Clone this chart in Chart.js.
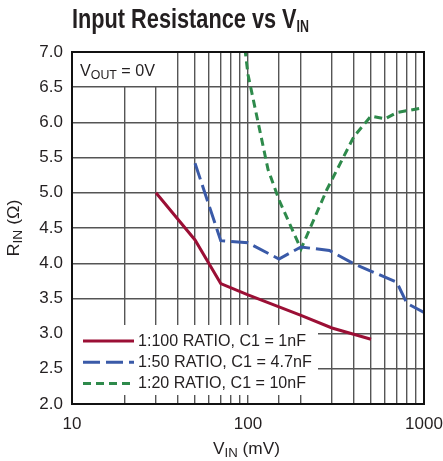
<!DOCTYPE html>
<html>
<head>
<meta charset="utf-8">
<script src="https://cdn.jsdelivr.net/npm/chart.js@4.4.0/dist/chart.umd.min.js"></script>
<style>
  html, body { margin: 0; padding: 0; background: #fff; }
  #wrap { width: 443px; height: 461px; }
</style>
</head>
<body>
<div id="wrap"><canvas id="chart" width="443" height="461"></canvas></div>
<script>
// values (x in mV, y in ohms)
const ratio100X = [30, 50, 70, 100, 200, 300, 500];
const ratio100Y = [5.0, 4.33, 3.71, 3.55, 3.26, 3.08, 2.92];
const ratio50X = [50, 70, 100, 150, 200, 290, 400, 700, 800, 1000];
const ratio50Y = [5.42, 4.32, 4.29, 4.06, 4.23, 4.18, 3.99, 3.73, 3.43, 3.3];
const ratio20X = [96, 100, 130, 150, 200, 280, 400, 500, 600, 700, 1000];
const ratio20Y = [7.05, 6.68, 5.33, 4.9, 4.2, 5.04, 5.8, 6.09, 6.05, 6.14, 6.21];
const seriesNames = ["1:100 RATIO, C1 = 1nF", "1:50 RATIO, C1 = 4.7nF", "1:20 RATIO, C1 = 10nF"];
const legendWidths = [168, 174, 168];
const xLabelTicks = [10, 100, 1000];

const fam = '"Liberation Sans", Arial, sans-serif';

function pts(xs, ys) {
  return xs.map((x, i) => ({ x: x, y: ys[i] }));
}

// draws text pieces one after another (for subscripts), squeezed to a width
function drawParts(ctx, x, y, parts, width, center) {
  let w = 0;
  parts.forEach(p => { ctx.font = p.font; w += ctx.measureText(p.t).width; });
  const sx = width ? width / w : 1;
  ctx.save();
  ctx.translate(center ? x - (w * sx) / 2 : x, y);
  ctx.scale(sx, 1);
  let cx = 0;
  parts.forEach(p => {
    ctx.font = p.font;
    ctx.fillText(p.t, cx, p.dy || 0);
    cx += ctx.measureText(p.t).width;
  });
  ctx.restore();
}

const boxes = {
  id: "boxes",
  beforeDatasetsDraw(chart) {
    const ctx = chart.ctx;
    const a = chart.chartArea;
    ctx.save();
    ctx.fillStyle = "#fff";
    ctx.fillRect(a.left, a.top, 93, 34);          // VOUT box
    ctx.fillRect(a.left, a.bottom - 79, 246, 70); // legend box
    ctx.restore();
  },
  afterDraw(chart) {
    const ctx = chart.ctx;
    const a = chart.chartArea;
    ctx.save();
    ctx.strokeStyle = "#111";
    ctx.lineWidth = 2;
    ctx.strokeRect(a.left, a.top, a.right - a.left, a.bottom - a.top);

    ctx.fillStyle = "#231f20";
    ctx.textBaseline = "alphabetic";
    ctx.textAlign = "left";
    drawParts(ctx, 72, 28, [
      { t: "Input Resistance vs V", font: "bold 28px " + fam },
      { t: "IN", font: "bold 16px " + fam, dy: 4 }
    ], 237);
    drawParts(ctx, 80, 76, [
      { t: "V", font: "17px " + fam },
      { t: "OUT", font: "13px " + fam, dy: 3 },
      { t: " = 0V", font: "17px " + fam }
    ], 75);
    drawParts(ctx, 246.5, 454, [
      { t: "V", font: "17px " + fam },
      { t: "IN", font: "13px " + fam, dy: 3 },
      { t: " (mV)", font: "17px " + fam }
    ], 67, true);
    ctx.save();
    ctx.translate(19, 228);
    ctx.rotate(-Math.PI / 2);
    drawParts(ctx, 0, 0, [
      { t: "R", font: "17px " + fam },
      { t: "IN", font: "13px " + fam, dy: 3 },
      { t: " (\u03A9)", font: "17px " + fam }
    ], 57, true);
    ctx.restore();

    // legend
    chart.data.datasets.forEach((ds, i) => {
      const y = 341 + i * 21.3;
      ctx.beginPath();
      ctx.strokeStyle = ds.borderColor;
      ctx.lineWidth = 3;
      ctx.setLineDash(ds.borderDash || []);
      ctx.moveTo(83, y);
      ctx.lineTo(134, y);
      ctx.stroke();
      ctx.setLineDash([]);
      ctx.fillStyle = "#231f20";
      ctx.textBaseline = "middle";
      drawParts(ctx, 138, y, [{ t: ds.label, font: "17px " + fam }], legendWidths[i]);
    });
    ctx.restore();
  }
};

const ctx = document.getElementById("chart");
const chart = new Chart(ctx, {
  type: "line",
  plugins: [boxes],
  data: {
    datasets: [
      {
        label: seriesNames[0],
        data: pts(ratio100X, ratio100Y),
        borderColor: "#9b0f35",
        borderWidth: 3,
      },
      {
        label: seriesNames[1],
        data: pts(ratio50X, ratio50Y),
        borderColor: "#3a5aa8",
        borderWidth: 3,
        borderDash: [17, 6],
      },
      {
        label: seriesNames[2],
        data: pts(ratio20X, ratio20Y),
        borderColor: "#2e8a4b",
        borderWidth: 3,
        borderDash: [8, 5],
      },
    ],
  },
  options: {
    responsive: false,
    devicePixelRatio: 1,
    animation: false,
    elements: {
      point: { radius: 0 },
      line: { tension: 0 },
    },
    layout: {
      padding: { top: 52, right: 19, left: 0, bottom: 0 },
    },
    plugins: {
      legend: { display: false },
      title: { display: false },
      tooltip: { enabled: false },
    },
    scales: {
      x: {
        type: "logarithmic",
        min: 10,
        max: 1000,
        afterFit: (scale) => {
          scale.height = 57;
          scale.paddingLeft = 0;
          scale.paddingRight = 0;
        },
        grid: { color: "#555", lineWidth: 1.4, drawTicks: false },
        border: { color: "#111", width: 2 },
        ticks: {
          autoSkip: false,
          maxRotation: 0,
          padding: 10,
          color: "#231f20",
          font: { family: fam, size: 17 },
          callback: (v) => (xLabelTicks.includes(v) ? String(v) : ""),
        },
      },
      y: {
        min: 2,
        max: 7,
        afterFit: (scale) => { scale.width = 72; },
        grid: { color: "#555", lineWidth: 1.4, drawTicks: false },
        border: { color: "#111", width: 2 },
        ticks: {
          stepSize: 0.5,
          padding: 9,
          color: "#231f20",
          font: { family: fam, size: 17 },
          callback: (v) => v.toFixed(1),
        },
      },
    },
  },
});
</script>
</body>
</html>
